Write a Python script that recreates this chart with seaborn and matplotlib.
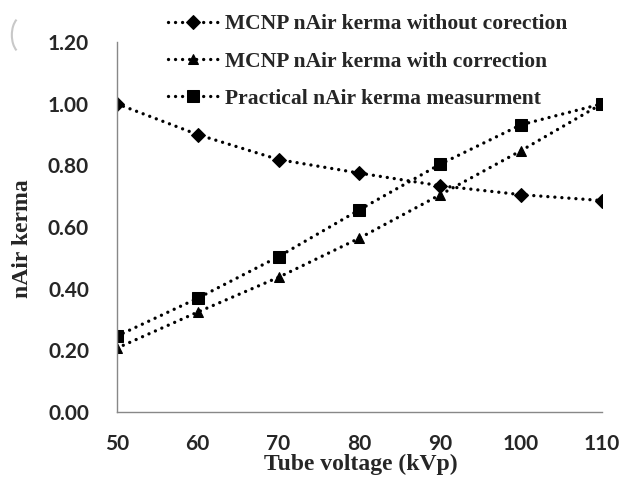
import pandas as pd
import numpy as np
import seaborn as sns
import matplotlib.pyplot as plt
from matplotlib.patches import Arc

kvp = [50, 60, 70, 80, 90, 100, 110]
without_corr = [1.00, 0.90, 0.819, 0.775, 0.734, 0.705, 0.686]
with_corr = [0.207, 0.324, 0.437, 0.564, 0.705, 0.848, 1.00]
practical = [0.246, 0.369, 0.504, 0.656, 0.804, 0.932, 1.00]

labels = ['MCNP nAir kerma without corection',
          'MCNP nAir kerma with correction',
          'Practical nAir kerma measurment']
markers = ['D', '^', 's']
msizes = [7.5, 7.5, 8]

sns.set_style('white')
plt.rcParams['font.family'] = ['Lato', 'DejaVu Sans']

fig = plt.figure(figsize=(6.35, 4.79), dpi=100)
ax = fig.add_axes([0.184, 0.14, 0.764, 0.772])

for vals, lab, m, ms in zip([without_corr, with_corr, practical], labels, markers, msizes):
    df = pd.DataFrame({'kvp': kvp, 'val': vals})
    sns.lineplot(x='kvp', y='val', data=df, ax=ax, color='black', marker=m,
                 markersize=ms, markeredgecolor='black', linestyle=(0, (0.01, 2.1)),
                 linewidth=2.4, dash_capstyle='round', label=lab)

ax.set_xlim(50, 110)
ax.set_ylim(0, 1.2)
ax.set_xticks(np.arange(50, 111, 10))
ax.set_xticks(np.arange(55, 110, 10), minor=True)
ax.set_yticks(np.arange(0, 1.21, 0.2))
ax.set_yticklabels(['%.2f' % v for v in np.arange(0, 1.21, 0.2)])

for s in ['top', 'right']:
    ax.spines[s].set_visible(False)
for s in ['left', 'bottom']:
    ax.spines[s].set_color('#888888')
    ax.spines[s].set_linewidth(1.0)

ax.tick_params(axis='x', which='both', direction='in', length=7, color='#888888',
               width=1, pad=16, labelsize=15)
ax.tick_params(axis='y', direction='out', length=6, color='#888888', width=1,
               pad=14, labelsize=15)
for t in ax.get_xticklabels() + ax.get_yticklabels():
    t.set_fontweight('bold')

ax.set_xlabel('Tube voltage (kVp)', family='Liberation Serif', fontweight='bold',
              fontsize=17)
ax.set_ylabel('nAir kerma', family='Liberation Serif', fontweight='bold',
              fontsize=17)
ax.xaxis.set_label_coords(0.503, -0.112)
ax.yaxis.set_label_coords(-0.172, 0.47)

leg = ax.legend(loc='upper left', bbox_to_anchor=(168 / 635, 0.97), bbox_transform=fig.transFigure,
                frameon=False, prop={'family': 'Liberation Serif', 'size': 15.5, 'weight': 'bold'},
                handlelength=2.3, labelspacing=0.8, handletextpad=0.35,
                borderpad=0, borderaxespad=0)

# faint scan artefact at the top left corner
fig.add_artist(Arc((22 / 635, 1 - 35 / 479), 0.032, 0.076, theta1=105, theta2=255,
                   transform=fig.transFigure, color='#c8c8c8', lw=1.5))

plt.savefig('out.png', dpi=100)
